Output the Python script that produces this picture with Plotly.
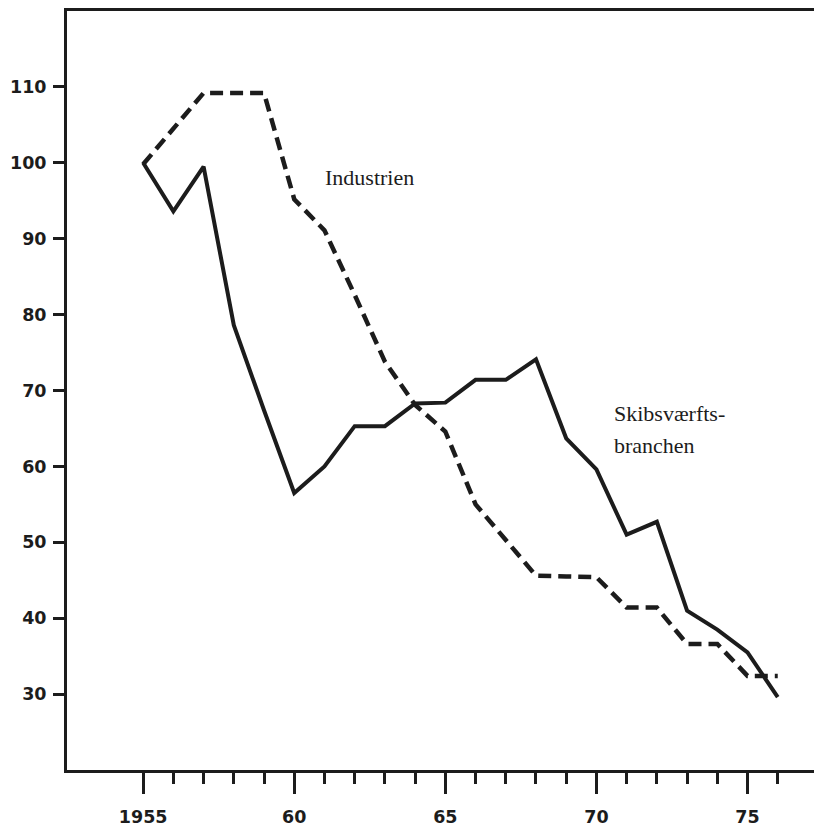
import plotly.graph_objects as go

years = list(range(1955, 1977))
skibsvaerft = [100, 93.6, 99.5, 78.6, 67.4, 56.5, 60.0, 65.3, 65.3, 68.3, 68.4,
               71.4, 71.4, 74.1, 63.7, 59.6, 51.0, 52.7, 41.0, 38.5, 35.5, 29.6]
industrien = [99.8, 104.5, 109.2, 109.2, 109.2, 95.2, 91.1, 82.6, 73.8, 68.1, 64.6,
              55.0, 50.3, 45.6, 45.5, 45.4, 41.4, 41.4, 36.6, 36.6, 32.4, 32.4]

major_ticks = [1955, 1960, 1965, 1970, 1975]
major_labels = ["1955", "60", "65", "70", "75"]
minor_ticks = [y for y in range(1956, 1977) if y not in major_ticks]
y_ticks = [30, 40, 50, 60, 70, 80, 90, 100, 110]

ink = "#1c1c1c"

fig = go.Figure()
fig.add_trace(go.Scatter(x=years, y=industrien, mode="lines",
                         line=dict(color=ink, width=4.5, dash="13px,7px"),
                         showlegend=False))
fig.add_trace(go.Scatter(x=years, y=skibsvaerft, mode="lines",
                         line=dict(color=ink, width=4),
                         showlegend=False))

serif = "Liberation Serif, Times New Roman, serif"
fig.add_annotation(x=1960.96, y=98.1, xref="x", yref="y", text="Industrien",
                   showarrow=False, xanchor="left", yanchor="middle",
                   font=dict(family=serif, size=22, color=ink))
fig.add_annotation(x=1970.52, y=67.0, xref="x", yref="y", text="Skibsværfts-",
                   showarrow=False, xanchor="left", yanchor="middle",
                   font=dict(family=serif, size=22, color=ink))
fig.add_annotation(x=1970.52, y=62.8, xref="x", yref="y", text="branchen",
                   showarrow=False, xanchor="left", yanchor="middle",
                   font=dict(family=serif, size=22, color=ink))

fig.update_layout(
    width=814, height=827,
    margin=dict(l=67, r=0, t=11, b=55),
    paper_bgcolor="white", plot_bgcolor="white",
    font=dict(family="DejaVu Sans", size=17, color=ink),
)
fig.update_xaxes(
    range=[1952.48, 1977.2],
    tickmode="array", tickvals=major_ticks, ticktext=major_labels,
    ticks="outside", ticklen=21, tickwidth=3, tickcolor=ink,
    ticklabelstandoff=8,
    tickfont=dict(family="DejaVu Sans", size=17.5, color=ink, weight="bold"),
    minor=dict(tickmode="array", tickvals=minor_ticks, ticks="outside",
               ticklen=11, tickwidth=2.5, tickcolor=ink, showgrid=False),
    showline=True, linewidth=3, linecolor=ink, mirror=True,
    showgrid=False, zeroline=False,
)
fig.update_yaxes(
    range=[20, 120],
    tickmode="array", tickvals=y_ticks,
    ticks="outside", ticklen=11, tickwidth=3, tickcolor=ink,
    ticklabelstandoff=3,
    tickfont=dict(family="DejaVu Sans", size=17.5, color=ink, weight="bold"),
    showline=True, linewidth=3, linecolor=ink,
    showgrid=False, zeroline=False,
)

fig.write_html(
    "out.html",
    config={"displayModeBar": False},
    post_script="document.body.style.margin='0';document.body.style.overflow='hidden';",
)
